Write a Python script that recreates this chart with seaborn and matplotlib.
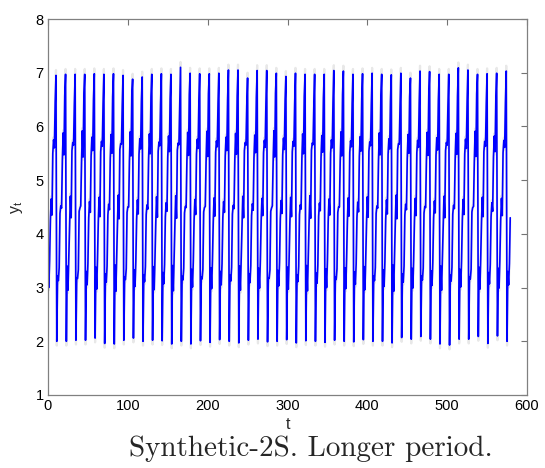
import numpy as np
import pandas as pd
import matplotlib
matplotlib.use("Agg")
import matplotlib.pyplot as plt
import seaborn as sns

# ---- data ----
n_points = 580
period = 12
# one period of the series (phase 0 = trough, phase 11 = peak)
cycle_shape = [2.0, 3.3, 3.05, 3.45, 4.3, 4.6, 4.4, 5.45, 5.8, 5.55, 6.5, 7.0]
# light grey companion series (drawn beneath)
grey_shape = [1.9, 3.2, 3.0, 3.4, 4.25, 4.65, 4.4, 5.4, 5.85, 5.5, 6.55, 7.1]
# peak value for each cycle
cycle_peaks = [6.95, 6.97, 6.97, 6.97, 6.98, 6.97, 6.98, 6.95, 6.88, 6.92,
               6.97, 6.98, 6.97, 7.10, 6.99, 6.98, 6.98, 6.99, 7.05, 7.05,
               6.90, 7.04, 7.04, 6.99, 6.93, 6.99, 6.97, 6.97, 6.97, 7.04,
               7.03, 6.97, 6.98, 6.99, 6.97, 6.96, 6.99, 6.90, 7.03, 7.02,
               6.97, 6.97, 7.09, 7.05, 6.97, 6.98, 6.99, 7.03, 7.00]
# trough value for each cycle
cycle_troughs = [2.00, 2.00, 2.00, 2.02, 2.02, 2.06, 1.96, 1.95, 2.02, 2.06,
                 2.00, 2.02, 2.01, 1.95, 2.00, 1.95, 2.01, 1.98, 2.03, 2.00,
                 1.97, 2.02, 2.04, 1.99, 2.00, 2.03, 1.97, 2.01, 2.00, 1.98,
                 2.02, 2.00, 1.99, 2.03, 2.00, 2.00, 1.97, 2.07, 2.04, 2.09,
                 2.04, 1.95, 1.93, 2.04, 2.04, 2.09, 1.96, 2.10, 2.00]
# per-cycle shift of the middle plateaus (≈3, ≈4.5, ≈5.6)
cycle_mid_shift = [0.05, -0.08, 0.10, -0.12, 0.00, 0.08, -0.05, 0.12, -0.10, 0.03,
                   -0.06, 0.09, -0.02, 0.11, -0.09, 0.04, -0.11, 0.07, 0.00, -0.07,
                   0.10, -0.04, 0.06, -0.12, 0.02, 0.08, -0.06, 0.11, -0.03, 0.05,
                   -0.10, 0.07, -0.01, 0.09, -0.08, 0.03, 0.12, -0.05, 0.06, -0.09,
                   0.01, 0.10, -0.07, 0.04, -0.11, 0.08, -0.02, 0.06, 0.00]
x_ticks = [0, 100, 200, 300, 400, 500, 600]
y_ticks = [1, 2, 3, 4, 5, 6, 7, 8]

t = np.arange(n_points)
phase = (t + 1) % period
cyc = (t + 1) // period
y = np.array([cycle_shape[p] for p in phase])
y_grey = np.array([grey_shape[p] for p in phase])
for i in range(n_points):
    c = cyc[i]
    p = phase[i]
    if p == 11:
        y[i] = cycle_peaks[c]
        y_grey[i] = cycle_peaks[c] + 0.1
    elif p == 0:
        y[i] = cycle_troughs[c]
        y_grey[i] = cycle_troughs[c] - 0.08
    else:
        sign = 1 if p % 2 else -1
        y[i] = y[i] + sign * cycle_mid_shift[c]
        y_grey[i] = y_grey[i] + sign * cycle_mid_shift[c]
df = pd.DataFrame({"t": t, "y": y, "yg": y_grey})

sns.set_style("white")
plt.rcParams["font.family"] = ["Liberation Sans", "DejaVu Sans"]
plt.rcParams["mathtext.fontset"] = "custom"
plt.rcParams["mathtext.rm"] = "Liberation Sans"
plt.rcParams["mathtext.it"] = "Liberation Sans"

fig = plt.figure(figsize=(5.45, 4.68), dpi=100)
ax = fig.add_axes([48 / 545, 1 - 395 / 468, (527 - 48) / 545, (395 - 19) / 468])

sns.lineplot(data=df, x="t", y="yg", ax=ax, color="#e8e8e8", lw=1.6,
             estimator=None, sort=False)
sns.lineplot(data=df, x="t", y="y", ax=ax, color="#0000ff", lw=1.2,
             estimator=None, sort=False)

ax.set_xlim(0, 600)
ax.set_ylim(1, 8)
ax.set_xticks(x_ticks)
ax.set_yticks(y_ticks)
ax.tick_params(direction="in", length=4, width=0.8, colors="0.45",
               labelcolor="black", labelsize=10.5, top=True, right=True,
               pad=3)
for s in ax.spines.values():
    s.set_color("0.5")
    s.set_linewidth(0.9)
ax.set_xlabel("t", fontsize=11.5, labelpad=3)
ax.set_ylabel(r"$\mathrm{y_t}$", fontsize=11.5, labelpad=8)

fig.text(311 / 545, 1 - 449 / 468, "Synthetic-2S. Longer period.",
         family="cmr10", fontsize=21, ha="center", va="center")

fig.savefig("out.png", dpi=100)
